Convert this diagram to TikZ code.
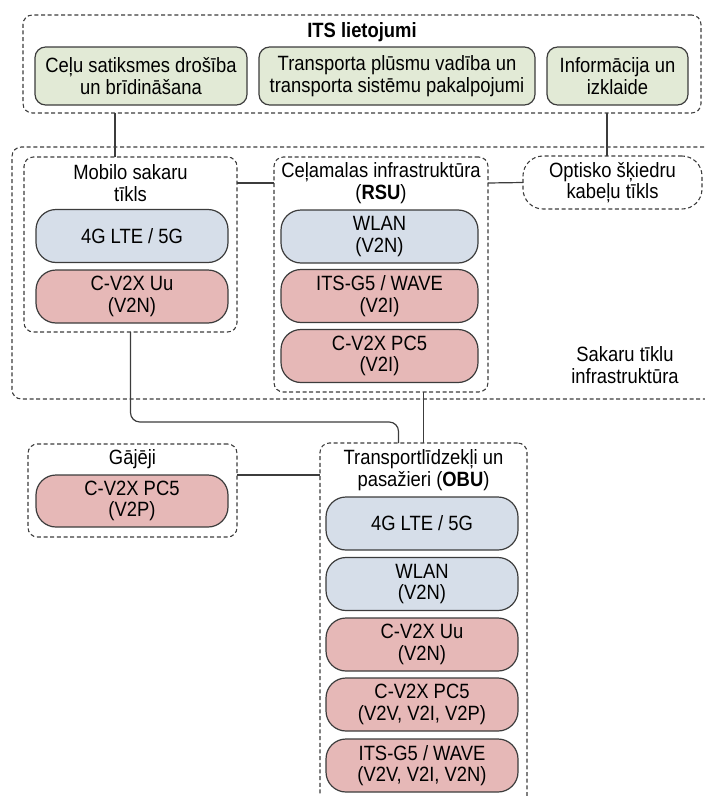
\documentclass[tikz,border=0pt]{standalone}
\usepackage{fontspec}
\setmainfont{Liberation Sans}[FakeStretch=0.89]
\usepackage{tikz}
\usetikzlibrary{calc}

\definecolor{appgreen}{HTML}{E2EAD6}
\definecolor{netblue}{HTML}{D6DEE9}
\definecolor{linkred}{HTML}{E6B8B7}
\definecolor{edgegray}{HTML}{3C3C3C}

\begin{document}
\begin{tikzpicture}[x=0.75pt, y=-0.75pt,
    every node/.style={font=\fontsize{15.5}{16.2}\selectfont, align=center, inner sep=0pt, outer sep=0pt},
    group/.style={draw=edgegray, line width=0.8pt, dash pattern=on 3pt off 2pt, rounded corners=7pt},
    appbox/.style={draw=edgegray, line width=0.9pt, fill=appgreen, rounded corners=8pt, minimum height=43.5pt},
    techbox/.style={draw=edgegray, line width=0.9pt, rounded corners=15pt, minimum width=144pt, minimum height=39.75pt},
    blue/.style={techbox, fill=netblue},
    red/.style={techbox, fill=linkred},
    link/.style={draw=edgegray, line width=0.9pt}]
    \useasboundingbox (0,0) rectangle (705,796);
    \clip (0,0) rectangle (705,796);

    % ITS applications
    \node [group, minimum width=508.5pt, minimum height=73.5pt] (itsgrp) at (362,64) {};
    \node (itstitle) at (362,32) {\textbf{ITS lietojumi}};
    \node [appbox, minimum width=159pt] (safety) at (141,76) {Ceļu satiksmes drošība\\un brīdināšana};
    \node [appbox, minimum width=207pt] (traffic) at (397,76) {Transporta plūsmu vadība un\\transporta sistēmu pakalpojumi};
    \node [appbox, minimum width=105.75pt] (infot) at (617.5,76) {Informācija un\\izklaide};

    % Network infrastructure
    \node [group, minimum width=531pt, minimum height=189pt] (netgrp) at (366,273) {};
    \node (netlabel) at (625,365) {Sakaru tīklu\\infrastruktūra};

    % Mobile network
    \node [group, minimum width=159.75pt, minimum height=131.25pt] (mobgrp) at (130.5,244.5) {};
    \node (mobtitle) at (130.5,183) {Mobilo sakaru\\tīkls};
    \node [blue] (mobcell) at (132,236) {4G LTE / 5G};
    \node [red] (mobuu) at (132,296.5) {C-V2X Uu\\(V2N)};

    % Roadside units
    \node [group, minimum width=160.5pt, minimum height=176.25pt] (rsugrp) at (381,274.5) {};
    \node (rsutitle) at (381,183) {Ceļamalas infrastruktūra\\(\textbf{RSU})};
    \node [blue, minimum width=147.75pt] (rsuwlan) at (379.5,236.5) {WLAN\\(V2N)};
    \node [red, minimum width=147.75pt] (rsuits) at (379.5,296) {ITS-G5 / WAVE\\(V2I)};
    \node [red, minimum width=147.75pt] (rsupc) at (379.5,356) {C-V2X PC5\\(V2I)};

    % Fibre network
    \node [group, rounded corners=15pt, minimum width=134.25pt, minimum height=39.75pt] (optic) at (612.5,182.5) {Optisko šķiedru\\kabeļu tīkls};

    % Pedestrians
    \node [group, minimum width=156.75pt, minimum height=69.75pt] (gajgrp) at (132.5,490.5) {};
    \node (gajtitle) at (132.5,459) {Gājēji};
    \node [red, minimum height=39pt] (gajpc) at (132,501) {C-V2X PC5\\(V2P)};

    % Vehicles
    \node [group, minimum width=155.25pt, minimum height=282.75pt] (obugrp) at (423.5,631.5) {};
    \node (obutitle) at (423.5,470) {Transportlīdzekļi un\\pasažieri (\textbf{OBU})};
    \node [blue] (obucell) at (422,523.5) {4G LTE / 5G};
    \node [blue] (obuwlan) at (422,584) {WLAN\\(V2N)};
    \node [red] (obuuu) at (422,644.5) {C-V2X Uu\\(V2N)};
    \node [red] (obupc) at (422,704.5) {C-V2X PC5\\(V2V, V2I, V2P)};
    \node [red] (obuits) at (422,765.5) {ITS-G5 / WAVE\\(V2V, V2I, V2N)};

    % Links
    \draw [link] ([xshift=-11.6pt]mobgrp.north) -- ([xshift=-11.6pt]mobgrp.north |- itsgrp.south);
    \draw [link] ([xshift=-4.1pt]optic.north) -- ([xshift=-4.1pt]optic.north |- itsgrp.south);
    \draw [link] (mobtitle -| mobgrp.east) -- (mobtitle -| rsugrp.west);
    \draw [link] (rsutitle -| rsugrp.east) -- (optic.west);
    \draw [link, rounded corners=7pt] (mobgrp.south) |- ($(obugrp.north)+(-25,-21)$) -- ($(obugrp.north)+(-25,0)$);
    \draw [link] (obugrp.north) -- (obugrp.north |- rsugrp.south);
    \draw [link] (gajpc.north -| gajgrp.east) -- (gajpc.north -| obugrp.west);
\end{tikzpicture}
\end{document}
